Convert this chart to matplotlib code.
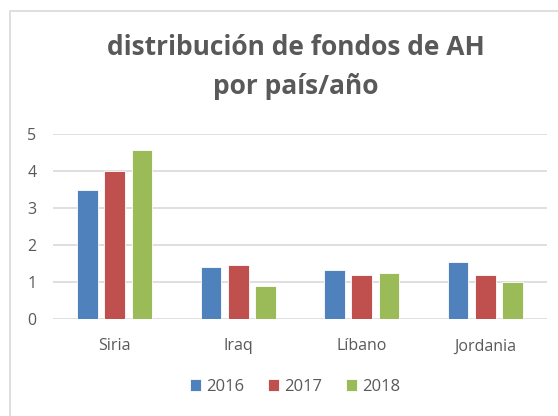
import matplotlib.pyplot as plt
import numpy as np
from matplotlib.patches import Rectangle

paises = ['Siria', 'Iraq', 'Líbano', 'Jordania']
anios = ['2016', '2017', '2018']
v2016 = [3.5, 1.4, 1.33, 1.54]
v2017 = [4.0, 1.45, 1.18, 1.18]
v2018 = [4.58, 0.89, 1.25, 1.0]
colores = ['#4f81bd', '#c0504d', '#9bbb59']

plt.rcParams['font.family'] = ['Open Sans', 'DejaVu Sans']
gris = '#595959'

fig = plt.figure(figsize=(5.58, 4.16), dpi=100)
# marco del gráfico (solo se ven borde superior e izquierdo)
fig.patches.append(Rectangle((10 / 558, -0.1), 1.2, (416 - 11) / 416 + 0.1,
                             transform=fig.transFigure, fill=False,
                             edgecolor='#d9d9d9', lw=1.2))

ax = fig.add_axes([53 / 558, (416 - 319) / 416, (547 - 53) / 558, (319 - 134) / 416])
x = np.arange(len(paises))
ancho = 0.167
paso = 0.222
for i, (serie, col) in enumerate(zip([v2016, v2017, v2018], colores)):
    ax.bar(x + (i - 1) * paso, serie, ancho, color=col, label=anios[i],
           edgecolor='white', linewidth=0.6, zorder=3)

ax.set_xlim(-0.5, len(paises) - 0.5)
ax.set_ylim(0, 5)
ax.set_yticks(range(6))
ax.set_xticks(x)
ax.set_xticklabels(paises)
ax.grid(axis='y', color='#d9d9d9', lw=1.2, zorder=0)
for s in ax.spines.values():
    s.set_visible(False)
ax.tick_params(length=0, labelsize=11.5, colors=gris, pad=12)
ax.tick_params(axis='x', pad=14)

fig.text(0.53, (416 - 67) / 416, 'distribución de fondos de AH\npor país/año',
         ha='center', va='center', fontsize=19, fontweight='bold', color=gris,
         linespacing=1.55)

fig.legend(loc='center', bbox_to_anchor=(295 / 558, (416 - 387) / 416), ncol=3,
           frameon=False, fontsize=12, labelcolor=gris, handlelength=0.7,
           handleheight=0.7, handletextpad=0.3, columnspacing=1.4)

fig.savefig('out.png', dpi=100)
